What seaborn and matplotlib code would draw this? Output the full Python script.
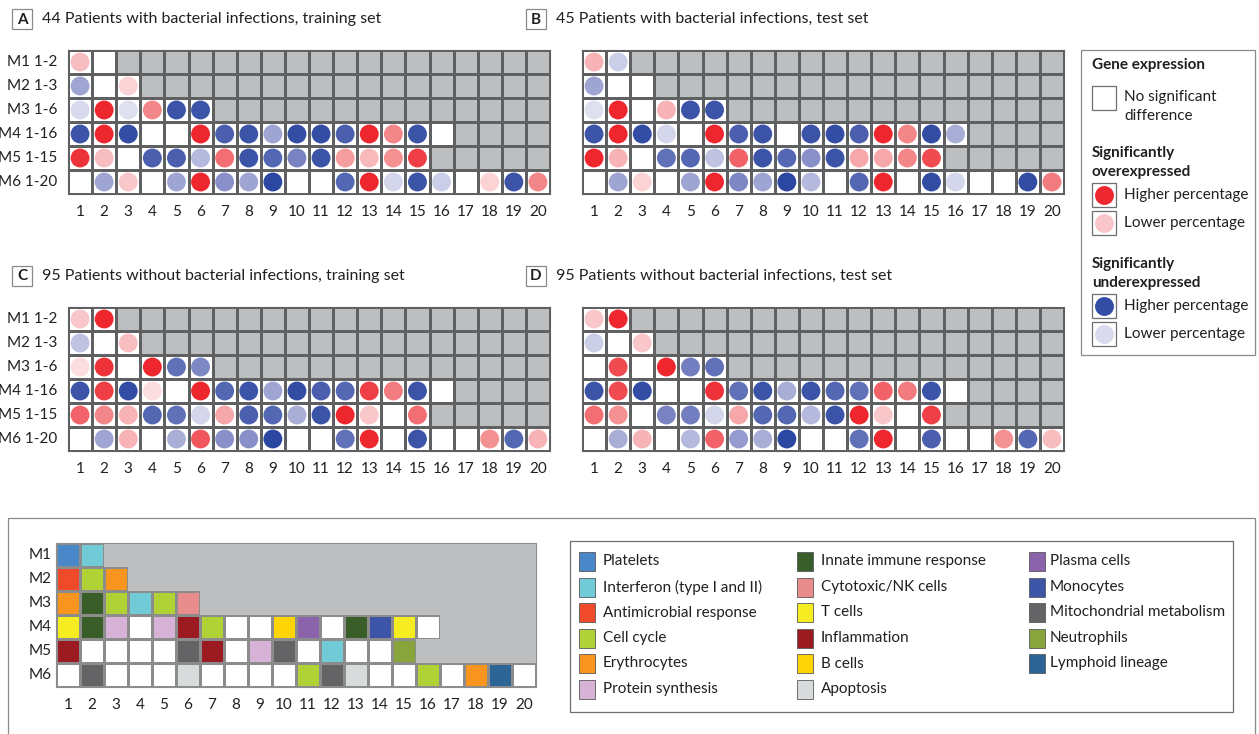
import matplotlib
matplotlib.use("Agg")
import numpy as np
import pandas as pd
import seaborn as sns
import matplotlib.pyplot as plt
from matplotlib.colors import LinearSegmentedColormap, ListedColormap
from matplotlib.patches import Rectangle

# ---------------------------------------------------------------------------
# Data: signed percentage of patients per module gene set
# (+ = significantly overexpressed, - = significantly underexpressed,
#  0 = no significant difference). Row lengths follow module sizes.
# ---------------------------------------------------------------------------
row_labels = ["M1 1-2", "M2 1-3", "M3 1-6", "M4 1-16", "M5 1-15", "M6 1-20"]
module_labels = ["M1", "M2", "M3", "M4", "M5", "M6"]
col_labels = [str(i) for i in range(1, 21)]

bact_train = [
    [30, 0],
    [-45, 0, 20],
    [-18, 95, -15, 55, -88, -88],
    [-88, 95, -92, 0, 0, 95, -82, -88, -45, -92, -92, -82, 95, 55, -88, 0],
    [90, 30, 0, -82, -82, -35, 65, -88, -78, -62, -88, 45, 32, 50, 85],
    [0, -45, 25, 0, -45, 95, -55, -45, -95, 0, 0, -78, 95, -20, -88, -25, 0, 20, -88, 55],
]
bact_test = [
    [35, -25],
    [-45, 0, 0],
    [-15, 95, 0, 35, -88, -88],
    [-88, 95, -92, -20, 0, 95, -82, -88, 0, -88, -92, -82, 95, 55, -92, -40],
    [95, 35, 0, -72, -78, -30, 70, -88, -78, -55, -88, 40, 40, 55, 80],
    [0, -45, 20, 0, -45, 95, -60, -45, -95, -35, 0, -78, 95, 0, -92, -20, 0, 0, -92, 60],
]
nonbact_train = [
    [25, 95],
    [-30, 0, 30],
    [15, 90, 0, 95, -72, -60],
    [-88, 85, -92, 15, 0, 95, -78, -88, -45, -92, -82, -78, 85, 60, -88, 0],
    [70, 55, 35, -78, -72, -20, 40, -82, -78, -40, -88, 95, 25, 0, 65],
    [0, -45, 35, 0, -40, 75, -55, -55, -95, 0, 0, -72, 95, 0, -88, 0, 0, 50, -78, 35],
]
nonbact_test = [
    [25, 95],
    [-25, 0, 25],
    [0, 80, 0, 95, -65, -72],
    [-88, 80, -92, 0, 0, 90, -72, -88, -40, -88, -78, -72, 70, 60, -88, 0],
    [65, 50, 0, -62, -65, -20, 40, -78, -78, -35, -88, 95, 25, 0, 85],
    [0, -40, 35, 0, -35, 70, -50, -40, -95, 0, 0, -72, 95, 0, -82, 0, 0, 50, -78, 30],
]

panel_titles = [
    ("A", "44 Patients with bacterial infections, training set"),
    ("B", "45 Patients with bacterial infections, test set"),
    ("C", "95 Patients without bacterial infections, training set"),
    ("D", "95 Patients without bacterial infections, test set"),
]

# Functional annotation of each module gene set
categories = [
    "Platelets", "Interferon (type I and II)", "Antimicrobial response",
    "Cell cycle", "Erythrocytes", "Protein synthesis",
    "Innate immune response", "Cytotoxic/NK cells", "T cells",
    "Inflammation", "B cells", "Apoptosis",
    "Plasma cells", "Monocytes", "Mitochondrial metabolism",
    "Neutrophils", "Lymphoid lineage",
]
category_colors = [
    "#4a87c9", "#70cbd6", "#ef4b2b",
    "#b1d236", "#f7951f", "#d6b2d7",
    "#395e2a", "#e88c8c", "#f6ec22",
    "#9b1c20", "#fdd405", "#d7dbdb",
    "#8b63ab", "#3d55a6", "#646466",
    "#87a53b", "#2c6495",
]
module_annotation = [
    ["Platelets", "Interferon (type I and II)"],
    ["Antimicrobial response", "Cell cycle", "Erythrocytes"],
    ["Erythrocytes", "Innate immune response", "Cell cycle",
     "Interferon (type I and II)", "Cell cycle", "Cytotoxic/NK cells"],
    ["T cells", "Innate immune response", "Protein synthesis", None,
     "Protein synthesis", "Inflammation", "Cell cycle", None, None, "B cells",
     "Plasma cells", None, "Innate immune response", "Monocytes", "T cells", None],
    ["Inflammation", None, None, None, None, "Mitochondrial metabolism",
     "Inflammation", None, "Protein synthesis", "Mitochondrial metabolism", None,
     "Interferon (type I and II)", None, None, "Neutrophils"],
    [None, "Mitochondrial metabolism", None, None, None, "Apoptosis", None, None,
     None, None, "Cell cycle", "Mitochondrial metabolism", "Apoptosis", None, None,
     "Cell cycle", None, "Erythrocytes", "Lymphoid lineage", None],
]

# ---------------------------------------------------------------------------
# Styling
# ---------------------------------------------------------------------------
sns.set_theme(style="white")
plt.rcParams["font.family"] = ["Lato", "DejaVu Sans"]
plt.rcParams["text.color"] = "#231f20"
plt.rcParams["xtick.color"] = "#231f20"
plt.rcParams["ytick.color"] = "#231f20"

GRAY = "#bcbec0"
GRID = "#5f6062"
TXT = "#231f20"
FS = 11

dot_cmap = LinearSegmentedColormap.from_list(
    "expr",
    [(0.0, "#213e9c"), (0.225, "#8a91c9"), (0.5, "#ffffff"),
     (0.775, "#f3878a"), (1.0, "#ed1c24")],
)

W, H = 1259, 734
fig = plt.figure(figsize=(W / 100, H / 100), dpi=100)


def px_axes(left, top, width, height, **kw):
    return fig.add_axes([left / W, 1 - (top + height) / H, width / W, height / H], **kw)


ov = px_axes(0, 0, W, H, zorder=0)
ov.set_xlim(0, W)
ov.set_ylim(H, 0)
ov.axis("off")


def to_matrix(rows):
    m = np.full((len(rows), 20), np.nan)
    for i, r in enumerate(rows):
        m[i, : len(r)] = r
    return m


def style_ticks(ax, ylab_pad, xlab_pad):
    ax.tick_params(axis="both", length=0, labelsize=FS, colors=TXT)
    ax.tick_params(axis="x", pad=xlab_pad)
    ax.tick_params(axis="y", pad=ylab_pad)
    plt.setp(ax.get_xticklabels(), rotation=0)
    plt.setp(ax.get_yticklabels(), rotation=0)


def draw_panel(ax, rows, show_rows):
    m = to_matrix(rows)
    background = np.where(np.isnan(m), 1.0, 0.0)
    sns.heatmap(
        background, ax=ax, cmap=ListedColormap(["white", GRAY]), vmin=0, vmax=1,
        cbar=False, linewidths=0.8, linecolor=GRID,
        xticklabels=col_labels, yticklabels=row_labels if show_rows else False,
    )
    recs = [
        {"x": j + 0.5, "y": i + 0.5, "value": v}
        for i, r in enumerate(rows) for j, v in enumerate(r) if v != 0
    ]
    df = pd.DataFrame(recs)
    sns.scatterplot(
        data=df, x="x", y="y", hue="value", palette=dot_cmap, hue_norm=(-100, 100),
        s=185, linewidth=0, legend=False, ax=ax, zorder=3,
    )
    ax.set_xlim(0, 20)
    ax.set_ylim(len(rows), 0)
    ax.set(xlabel="", ylabel="")
    for sp in ax.spines.values():
        sp.set_visible(True)
        sp.set_color(GRID)
        sp.set_linewidth(0.8)
    style_ticks(ax, 8, 8)


panel_boxes = [(68, 50), (582, 50), (68, 307), (582, 307)]
panel_data = [bact_train, bact_test, nonbact_train, nonbact_test]
for (left, top), rows, (letter, title) in zip(panel_boxes, panel_data, panel_titles):
    ax = px_axes(left, top, 482, 144, zorder=2)
    draw_panel(ax, rows, show_rows=(left < 300))
    bx = left - 56
    ty = top - 31
    ov.add_patch(Rectangle((bx, ty - 10), 20, 20, fill=False, edgecolor="#8a8a8a", lw=0.9))
    ov.text(bx + 10, ty + 0.5, letter, ha="center", va="center", fontsize=FS,
            fontweight="bold", color=TXT)
    ov.text(bx + 30, ty, title, ha="left", va="center", fontsize=11.5, color=TXT)

# ---------------------------------------------------------------------------
# Gene expression key
# ---------------------------------------------------------------------------
ov.add_patch(Rectangle((1081, 50), 174, 305, fill=False, edgecolor="#8a8a8a", lw=0.9))
ov.text(1092, 65, "Gene expression", fontsize=FS, fontweight="bold", va="center")
ov.add_patch(Rectangle((1092, 86), 24, 24, facecolor="white", edgecolor="#6d6e71", lw=0.9))
ov.text(1124, 97, "No significant", fontsize=FS, va="center")
ov.text(1124, 116, "difference", fontsize=FS, va="center")

key_groups = [
    ((153, 172), ("Significantly", "overexpressed"), [(195, 95, "Higher percentage"), (223, 25, "Lower percentage")]),
    ((264, 283), ("Significantly", "underexpressed"), [(306, -92, "Higher percentage"), (334, -18, "Lower percentage")]),
]
for (y1, y2), (h1, h2), entries in key_groups:
    ov.text(1092, y1, h1, fontsize=FS, fontweight="bold", va="center")
    ov.text(1092, y2, h2, fontsize=FS, fontweight="bold", va="center")
    for yc, val, lab in entries:
        ov.add_patch(Rectangle((1092, yc - 12), 24, 24, facecolor="white",
                               edgecolor="#6d6e71", lw=0.9))
        ov.scatter([1104], [yc], s=185, color=dot_cmap((val + 100) / 200), linewidth=0, zorder=3)
        ov.text(1124, yc, lab, fontsize=FS, va="center")

# ---------------------------------------------------------------------------
# Module annotation panel
# ---------------------------------------------------------------------------
ov.add_patch(Rectangle((8, 518), 1247, 230, fill=False, edgecolor="#8a8a8a", lw=0.9))

cat_idx = {c: k + 1 for k, c in enumerate(categories)}
ann = np.full((6, 20), np.nan)
for i, r in enumerate(module_annotation):
    for j, c in enumerate(r):
        ann[i, j] = 0 if c is None else cat_idx[c]
invalid = np.isnan(ann)

axm = px_axes(56, 543, 480, 144, zorder=2)
sns.heatmap(
    np.nan_to_num(ann), mask=invalid, ax=axm,
    cmap=ListedColormap(["white"] + category_colors),
    vmin=-0.5, vmax=len(categories) + 0.5, cbar=False,
    linewidths=0.8, linecolor="#8c8c8c",
    xticklabels=col_labels, yticklabels=module_labels,
)
sns.heatmap(
    np.zeros_like(ann), mask=~invalid, ax=axm, cmap=ListedColormap([GRAY]),
    cbar=False, linewidths=0, xticklabels=col_labels, yticklabels=module_labels,
)
axm.set_xlim(0, 20)
axm.set_ylim(6, 0)
for sp in axm.spines.values():
    sp.set_visible(True)
    sp.set_color("#8c8c8c")
    sp.set_linewidth(0.8)
style_ticks(axm, 3, 8)

# Category key
ov.add_patch(Rectangle((570, 541), 663, 171, fill=False, edgecolor="#6d6e71", lw=0.9))
sw_x = [579, 797, 1029]
tx_x = [603, 821, 1050]
row_y = [561, 587, 612.5, 638, 663.5, 689]
for k, (cat, col) in enumerate(zip(categories, category_colors)):
    c, r = divmod(k, 6)
    ov.add_patch(Rectangle((sw_x[c], row_y[r] - 9.5), 16, 19, facecolor=col,
                           edgecolor="#58595b", lw=0.6))
    ov.text(tx_x[c], row_y[r], cat, fontsize=FS, va="center")

fig.savefig("out.png", dpi=100)
